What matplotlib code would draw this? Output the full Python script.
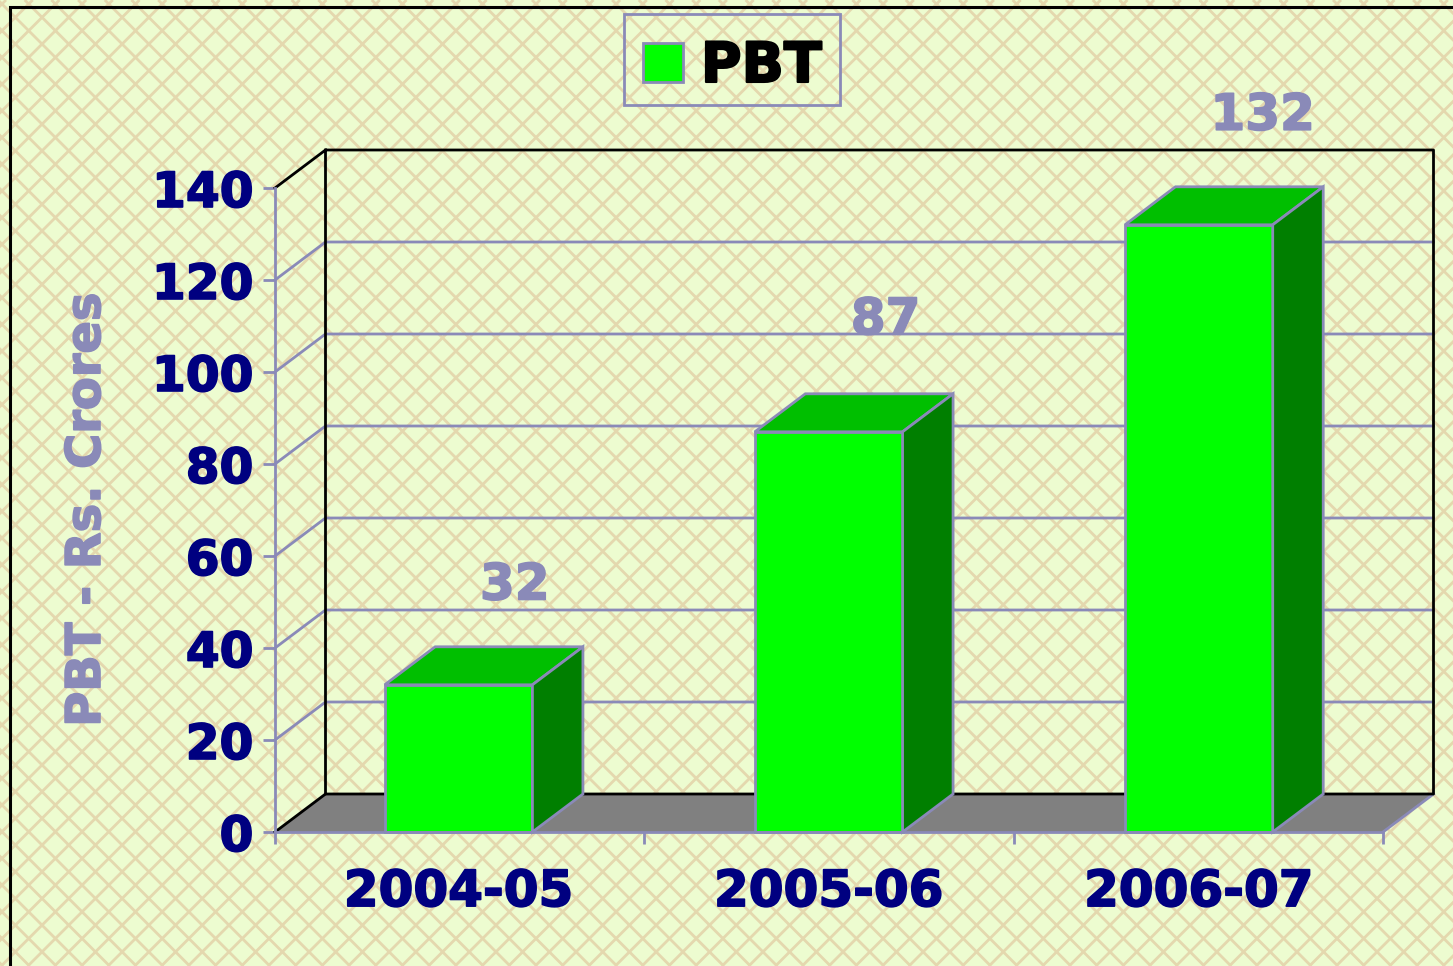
import numpy as np
import matplotlib
matplotlib.use("Agg")
import matplotlib.pyplot as plt
import matplotlib.patheffects as pe
from matplotlib.collections import LineCollection
from matplotlib.patches import Polygon, Patch, Rectangle

years = ["2004-05", "2005-06", "2006-07"]
pbt = [32, 87, 132]
y_ticks = [0, 20, 40, 60, 80, 100, 120, 140]

W, H = 1453, 966
AXIS = "#8a8ab8"
NAVY = "#000080"
BG = "#edfcd0"
LATTICE = "#e4d8ae"

plt.rcParams["font.family"] = ["DejaVu Sans"]
plt.rcParams["font.weight"] = "bold"


def heavy(text, color, w=1.2):
    # DejaVu bold is lighter than the original face, so thicken it a little
    text.set_path_effects([pe.withStroke(linewidth=w, foreground=color)])


fig = plt.figure(figsize=(W / 100, H / 100), dpi=100, facecolor=BG)

# background lattice and outer black frame, in pixels
bg = fig.add_axes([0, 0, 1, 1], zorder=0)
bg.set_xlim(0, W)
bg.set_ylim(H, 0)
bg.axis("off")
step = 26.7
segs = []
for k in np.arange(-60, 120):
    a = -2 + k * step     # x - y = a
    b = 59.4 + k * step   # x + y = b
    segs.append([(a, 0), (a + H, H)])
    segs.append([(b, 0), (b - H, H)])
bg.add_collection(LineCollection(segs, colors=LATTICE, linewidths=2.0))
bg.plot([10, 10, W + 5], [H + 5, 7, 7], color="black", lw=2.2, solid_joinstyle="miter")
bg.add_patch(Rectangle((624, 14), 216, 91, facecolor="none", edgecolor=AXIS, lw=2.0, zorder=3))

# front plane of the chart
left, right, top, bottom = 275, 1383, 188, 832
ax = fig.add_axes([left / W, (H - bottom) / H, (right - left) / W, (bottom - top) / H], zorder=1)
ax.patch.set_alpha(0)
ax.set_xlim(0, 3)
ax.set_ylim(0, 140)

dx = 50.5 * 3 / (right - left)
dy = 38 * 140 / (bottom - top)
LW = 2.0

# back wall, gridlines and floor
for v in y_ticks[1:-1]:
    ax.plot([0, dx, 3 + dx], [v, v + dy, v + dy], color=AXIS, lw=LW, clip_on=False, zorder=1)
ax.add_patch(Polygon([(0, 0), (dx, dy), (3 + dx, dy), (3, 0)], closed=True, facecolor="#808080",
                     edgecolor="none", clip_on=False, zorder=1.5))
ax.plot([3, 3 + dx], [0, dy], color=AXIS, lw=LW, clip_on=False, zorder=1.6)
ax.plot([0, dx, dx, 3 + dx, 3 + dx, dx, dx], [140, 140 + dy, 140 + dy, 140 + dy, dy, dy, 140 + dy],
        color="black", lw=LW, clip_on=False, zorder=1.7)
ax.plot([0, dx], [0, dy], color="black", lw=LW, clip_on=False, zorder=1.7)

# 3d bars
width = 0.4
xpos = np.arange(len(pbt)) * 1.0022 + 0.497
ax.bar(xpos, pbt, width=width, color="#00ff00", edgecolor=AXIS, linewidth=LW, clip_on=False, zorder=3)
for x, v in zip(xpos, pbt):
    x0, x1 = x - width / 2, x + width / 2
    ax.add_patch(Polygon([(x0, v), (x1, v), (x1 + dx, v + dy), (x0 + dx, v + dy)], closed=True,
                         facecolor="#00bf00", edgecolor=AXIS, lw=LW, clip_on=False, zorder=3))
    ax.add_patch(Polygon([(x1, 0), (x1 + dx, dy), (x1 + dx, v + dy), (x1, v)], closed=True,
                         facecolor="#007f00", edgecolor=AXIS, lw=LW, clip_on=False, zorder=3))

# value labels sit above and to the right of each bar
label_off = [(40.5, 71.5), (41, 80.5), (46, 78.5)]
for x, v, off in zip(xpos, pbt, label_off):
    t = ax.annotate(str(v), (x, v), xytext=off, textcoords="offset points", ha="center",
                    va="center", fontsize=36, color=AXIS, annotation_clip=False)
    heavy(t, AXIS)

for s in ["top", "right"]:
    ax.spines[s].set_visible(False)
for s in ["left", "bottom"]:
    ax.spines[s].set_color(AXIS)
    ax.spines[s].set_linewidth(LW)
    ax.spines[s].set_zorder(4)

ax.set_yticks(y_ticks)
ax.set_yticklabels([str(v) for v in y_ticks])
ax.set_xticks([0, 1, 2, 3])
ax.set_xticklabels([])
ax.set_xticks(xpos, labels=years, minor=True)
ax.tick_params(axis="x", which="major", length=8.5, width=LW, color=AXIS)
ax.tick_params(axis="x", which="minor", length=0, labelsize=36, labelcolor=NAVY, pad=26)
ax.tick_params(axis="y", length=8.5, width=LW, color=AXIS, labelsize=35, labelcolor=NAVY, pad=7)
for t in ax.get_yticklabels() + ax.get_xticklabels(minor=True):
    heavy(t, NAVY)
yl = ax.set_ylabel("PBT - Rs. Crores", fontsize=34.5, color=AXIS, fontweight="bold")
ax.yaxis.set_label_coords((110 - left) / (right - left), (832 - 510) / (bottom - top))
heavy(yl, AXIS)

# legend (its box is drawn on the background axes)
handle = Patch(facecolor="#00ff00", edgecolor=AXIS, linewidth=LW)
leg = fig.legend(handles=[handle], labels=["PBT"], loc="center", bbox_to_anchor=(732 / W, 1 - 67 / H),
                 fontsize=40, handlelength=0.72, handleheight=0.72, handletextpad=0.33,
                 borderpad=0.42, frameon=False, labelcolor="black")
leg.set_zorder(5)
heavy(leg.get_texts()[0], "black", 1.5)

fig.savefig("out.png", dpi=100, facecolor=BG)
